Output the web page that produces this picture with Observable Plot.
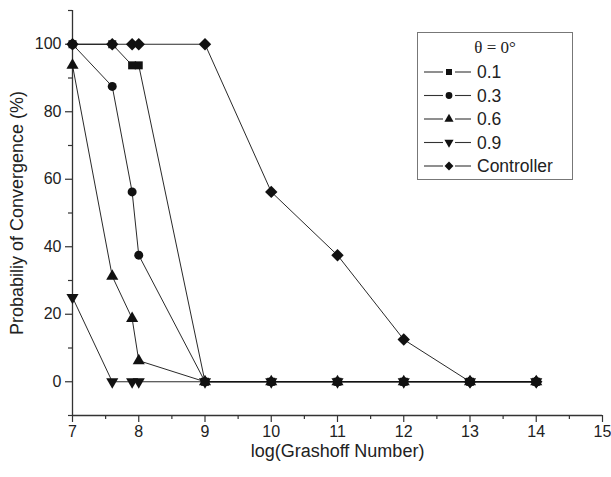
<!DOCTYPE html>
<html><head><meta charset="utf-8">
<script src="https://cdn.jsdelivr.net/npm/d3@7"></script>
<script src="https://cdn.jsdelivr.net/npm/@observablehq/plot@0.6"></script>
<style>
body{margin:0;background:#fff;}
#wrap{position:relative;width:611px;height:477px;}
#legend{position:absolute;left:417px;top:32px;width:156px;height:148px;border:1px solid #777;background:#fff;box-sizing:border-box;}
</style></head><body><div id="wrap"></div>
<script>
// Data
const seriesNames = ["0.1", "0.3", "0.6", "0.9", "Controller"];
const seriesSymbols = ["square", "circle", "triangle", "triangle", "diamond2"];
const seriesRotate = [0, 0, 0, 180, 0];
const seriesRadius = [4.5, 4.5, 4.5, 4.5, 5.6];
const logGrashoff = [7, 7.6, 7.9, 8, 9, 10, 11, 12, 13, 14];
const conv01 = [100, 100, 93.75, 93.75, 0, 0, 0, 0, 0, 0];
const conv03 = [100, 87.5, 56.25, 37.5, 0, 0, 0, 0, 0, 0];
const conv06 = [93.75, 31.25, 18.75, 6.25, 0, 0, 0, 0, 0, 0];
const conv09 = [25, 0, 0, 0, 0, 0, 0, 0, 0, 0];
const convCtrl = [100, 100, 100, 100, 100, 56.25, 37.5, 12.5, 0, 0];
const xTicks = [7, 8, 9, 10, 11, 12, 13, 14, 15];
const xMinorTicks = [7.5, 8.5, 9.5, 10.5, 11.5, 12.5, 13.5, 14.5];
const yTicks = [0, 20, 40, 60, 80, 100];
const yMinorTicks = [-10, 10, 30, 50, 70, 90, 110];
const legendTitle = "θ = 0°";
const xLabel = "log(Grashoff Number)";
const yLabel = "Probabiliy of Convergence (%)";

const seriesValues = [conv01, conv03, conv06, conv09, convCtrl];
const rows = [];
seriesNames.forEach((s, i) => {
  logGrashoff.forEach((x, j) => rows.push({series: s, x, y: seriesValues[i][j], rot: seriesRotate[i], r: seriesRadius[i]}));
});

const axisColor = "#333";
const font = "'Liberation Sans', Arial, Helvetica, sans-serif";

const chart = Plot.plot({
  width: 611, height: 477,
  marginLeft: 72, marginRight: 9, marginTop: 10, marginBottom: 62,
  x: {domain: [7, 15]},
  y: {domain: [-10, 110]},
  r: {type: "identity"},
  symbol: {domain: seriesNames, range: seriesSymbols},
  style: {fontFamily: font, fontSize: "16px", color: "#222", background: "white"},
  marks: [
    Plot.ruleX([7], {stroke: axisColor, strokeWidth: 1.3}),
    Plot.ruleY([-10], {stroke: axisColor, strokeWidth: 1.3}),
    Plot.axisX(xTicks, {tickSize: 7, tickPadding: 3, stroke: axisColor, strokeWidth: 1.2, label: null, fontSize: 16}),
    Plot.axisX(xMinorTicks, {tickSize: 4, stroke: axisColor, strokeWidth: 1.2, tickFormat: () => "", label: null}),
    Plot.axisX([], {label: xLabel, labelAnchor: "center", labelArrow: "none", labelOffset: 41, fontSize: 18, tickSize: 0}),
    Plot.axisY(yTicks, {tickSize: 7, tickPadding: 4, stroke: axisColor, strokeWidth: 1.2, label: null, fontSize: 16}),
    Plot.axisY(yMinorTicks, {tickSize: 4, stroke: axisColor, strokeWidth: 1.2, tickFormat: () => "", label: null}),
    Plot.axisY([], {label: yLabel, labelAnchor: "center", labelArrow: "none", labelOffset: 62, fontSize: 18, tickSize: 0}),
    Plot.line(rows, {x: "x", y: "y", z: "series", stroke: "#111", strokeWidth: 0.9}),
    Plot.dot(rows, {x: "x", y: "y", symbol: "series", rotate: "rot", r: "r", fill: "#111", stroke: "none"})
  ]
});

const wrap = document.getElementById("wrap");
wrap.appendChild(chart);

// Legend overlay
const legend = document.createElement("div");
legend.id = "legend";
wrap.appendChild(legend);
const lw = 156, lh = 148;
const svg = d3.select(legend).append("svg").attr("width", lw - 2).attr("height", lh - 2)
  .style("position", "absolute").style("left", "0px").style("top", "0px");
svg.append("text").attr("x", (lw - 2) / 2).attr("y", 14).attr("text-anchor", "middle")
  .attr("dominant-baseline", "central")
  .style("font-family", "'Liberation Serif', 'DejaVu Serif', serif").style("font-size", "17px").attr("fill", "#222")
  .text(legendTitle);
const symMap = {square: d3.symbolSquare, circle: d3.symbolCircle, triangle: d3.symbolTriangle, diamond2: d3.symbolDiamond2};
seriesNames.forEach((s, i) => {
  const cy = 39 + i * 23.5;
  svg.append("line").attr("x1", 6).attr("x2", 25).attr("y1", cy).attr("y2", cy).attr("stroke", "#333").attr("stroke-width", 1.1);
  svg.append("line").attr("x1", 37).attr("x2", 53).attr("y1", cy).attr("y2", cy).attr("stroke", "#333").attr("stroke-width", 1.1);
  const rr = i === 4 ? 4.0 : 3.4;
  svg.append("path").attr("d", d3.symbol(symMap[seriesSymbols[i]], Math.PI * rr * rr)())
    .attr("transform", `translate(31,${cy}) rotate(${seriesRotate[i]})`).attr("fill", "#111");
  svg.append("text").attr("x", 59).attr("y", cy).attr("dominant-baseline", "central")
    .style("font-family", font).style("font-size", "17.5px").attr("fill", "#222").text(s);
});
</script></body></html>
